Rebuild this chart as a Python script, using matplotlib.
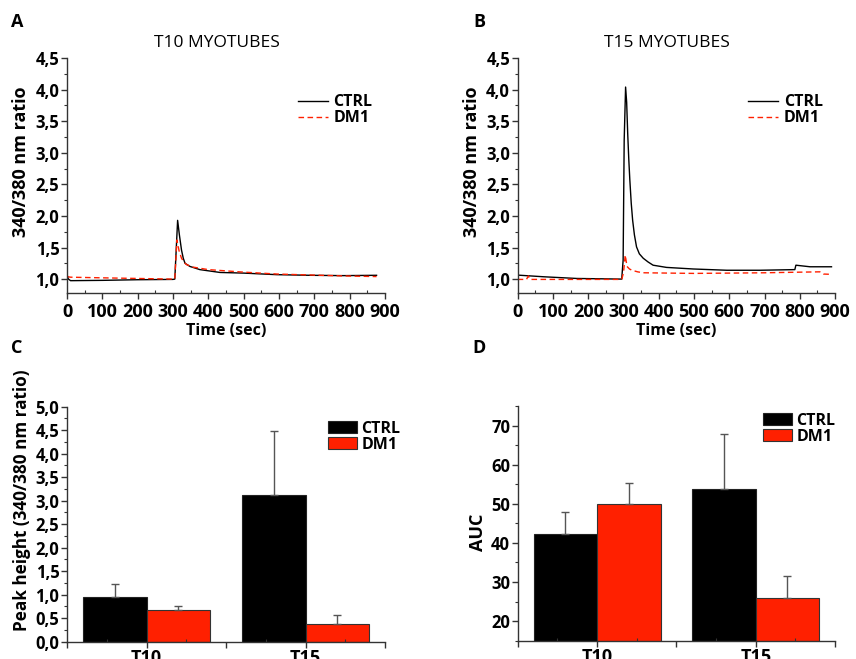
import numpy as np
import matplotlib.pyplot as plt
from matplotlib.ticker import MultipleLocator, FuncFormatter

t10_ctrl_t = [0, 4, 10, 100, 200, 300, 305, 313, 318, 324, 329, 334, 348, 376, 433, 499, 594, 688, 782, 876]
t10_ctrl_v = [1.07, 1.0, 0.975, 0.98, 0.99, 0.995, 1.0, 1.93, 1.70, 1.46, 1.33, 1.25, 1.20, 1.15, 1.105, 1.095, 1.07, 1.06, 1.055, 1.06]
t10_dm1_t = [0, 10, 100, 200, 300, 305, 311, 317, 324, 331, 338, 356, 400, 450, 500, 594, 688, 782, 876]
t10_dm1_v = [1.04, 1.03, 1.02, 1.01, 1.0, 1.0, 1.62, 1.45, 1.33, 1.27, 1.23, 1.19, 1.15, 1.13, 1.11, 1.08, 1.065, 1.05, 1.04]

t15_ctrl_t = [0, 73, 167, 295, 299, 302, 306, 309, 312, 315, 318, 322, 326, 331, 337, 345, 356, 370, 384,
              422, 498, 593, 687, 786, 789, 829, 890]
t15_ctrl_v = [1.063, 1.037, 1.01, 1.0, 1.3, 3.2, 4.04, 3.8, 3.3, 2.9, 2.57, 2.2, 1.93, 1.70, 1.51, 1.40, 1.33, 1.27, 1.22,
              1.185, 1.16, 1.14, 1.14, 1.15, 1.22, 1.195, 1.195]
t15_dm1_t = [0, 25, 30, 35, 100, 200, 295, 300, 305, 310, 317, 324, 340, 356, 500, 700, 857, 867, 890]
t15_dm1_v = [0.995, 0.995, 1.05, 0.995, 0.995, 0.995, 0.995, 1.1, 1.38, 1.2, 1.16, 1.14, 1.115, 1.10, 1.09, 1.10, 1.115, 1.08, 1.075]

# Bar summaries (panels C and D)
groups = ["T10", "T15"]
peak_ctrl = [0.95, 3.13]
peak_ctrl_err = [0.28, 1.35]
peak_dm1 = [0.667, 0.383]
peak_dm1_err = [0.083, 0.177]
auc_ctrl = [42.2, 53.9]
auc_ctrl_err = [5.8, 13.9]
auc_dm1 = [50.0, 25.9]
auc_dm1_err = [5.35, 5.6]

RED = "#ff2000"
FONT = "Open Sans"
plt.rcParams["font.family"] = FONT
plt.rcParams["font.weight"] = "bold"

fig = plt.figure(figsize=(8.56, 6.59), dpi=100)
axA = fig.add_axes([0.0783, 0.5554, 0.3715, 0.3566])
axB = fig.add_axes([0.6048, 0.5554, 0.3707, 0.3566])
axC = fig.add_axes([0.0783, 0.0263, 0.3715, 0.3566])
axD = fig.add_axes([0.6048, 0.0278, 0.3707, 0.3561])

comma = FuncFormatter(lambda v, p: f"{v:.1f}".replace(".", ","))
leg_font = {"family": FONT, "weight": "bold", "size": 11.5}


def style(ax):
    for s in ("top", "right"):
        ax.spines[s].set_visible(False)
    for s in ("left", "bottom"):
        ax.spines[s].set_linewidth(1.0)
        ax.spines[s].set_color("#333333")
    ax.tick_params(which="major", direction="out", length=4, width=1, labelsize=12, pad=1.5, color="#333333")
    ax.tick_params(which="minor", direction="out", length=2.5, width=0.8, color="#333333")
    ax.tick_params(axis="x", which="minor", direction="in")


for ax, (ct, cv, dt, dv), title in [
    (axA, (t10_ctrl_t, t10_ctrl_v, t10_dm1_t, t10_dm1_v), "T10 MYOTUBES"),
    (axB, (t15_ctrl_t, t15_ctrl_v, t15_dm1_t, t15_dm1_v), "T15 MYOTUBES"),
]:
    ax.plot(ct, cv, color="black", lw=1.0, label="CTRL")
    ax.plot(dt, dv, color=RED, lw=1.0, ls=(0, (4, 2.5)), label="DM1")
    ax.set_xlim(0, 900)
    ax.set_ylim(0.78, 4.5)
    ax.xaxis.set_major_locator(MultipleLocator(100))
    ax.xaxis.set_minor_locator(MultipleLocator(50))
    ax.yaxis.set_minor_locator(MultipleLocator(0.25))
    ax.set_yticks(np.arange(1.0, 4.51, 0.5))
    ax.yaxis.set_major_formatter(comma)
    style(ax)
    ax.tick_params(axis="x", which="major", pad=3, labelsize=13)
    ax.set_xlabel("Time (sec)", fontsize=11.5, fontweight="bold", labelpad=2)
    ax.set_ylabel("340/380 nm ratio", fontsize=13, fontweight="bold", labelpad=4, y=0.557)
    ax.set_title(title, fontsize=12.5, fontweight="normal", pad=8, x=0.47)
    ax.legend(loc="upper left", bbox_to_anchor=(0.70, 0.88), frameon=False,
              handlelength=1.9, handletextpad=0.35, labelspacing=0.0, borderpad=0, prop=leg_font)

x = np.array([1, 3])
w = 0.8
for ax, (c, ce, d, de), ylim, ylabel, fs, ly in [
    (axC, (peak_ctrl, peak_ctrl_err, peak_dm1, peak_dm1_err), (0, 5.0), "Peak height (340/380 nm ratio)", 12.3, 0.6),
    (axD, (auc_ctrl, auc_ctrl_err, auc_dm1, auc_dm1_err), (15, 75), "AUC", 13, 0.46),
]:
    ekw = dict(ecolor="#555555", elinewidth=1.0, capsize=3, capthick=1.0)
    ax.bar(x - w / 2, c, w, color="black", edgecolor="#222222", lw=0.8, label="CTRL",
           yerr=[np.zeros(2), ce], error_kw=ekw)
    ax.bar(x + w / 2, d, w, color=RED, edgecolor="#333333", lw=0.8, label="DM1",
           yerr=[np.zeros(2), de], error_kw=ekw)
    ax.set_xlim(0, 4)
    ax.set_ylim(*ylim)
    ax.set_xticks([0, 1, 2, 3, 4], ["", groups[0], "", groups[1], ""])
    ax.xaxis.set_minor_locator(MultipleLocator(0.5))
    style(ax)
    ax.tick_params(axis="x", which="major", labelsize=13, pad=1)
    ax.set_ylabel(ylabel, fontsize=fs, fontweight="bold", labelpad=3, y=ly)

axC.yaxis.set_major_locator(MultipleLocator(0.5))
axC.yaxis.set_minor_locator(MultipleLocator(0.25))
axC.yaxis.set_major_formatter(comma)
axD.set_yticks(np.arange(20, 71, 10))
axD.yaxis.set_minor_locator(MultipleLocator(5))

axC.legend(loc="upper left", bbox_to_anchor=(0.795, 0.975), frameon=False,
           handlelength=1.8, handleheight=0.75, handletextpad=0.3, labelspacing=0.0, borderpad=0, prop=leg_font)
axD.legend(loc="upper left", bbox_to_anchor=(0.748, 1.005), frameon=False,
           handlelength=1.8, handleheight=0.75, handletextpad=0.3, labelspacing=0.0, borderpad=0, prop=leg_font)

for lab, px, py in [("A", 17, 22), ("B", 479, 22), ("C", 17, 348), ("D", 479, 348)]:
    fig.text(px / 856, 1 - py / 659, lab, fontsize=13, fontweight="bold", ha="center", va="center")

fig.savefig("out.png", dpi=100)
